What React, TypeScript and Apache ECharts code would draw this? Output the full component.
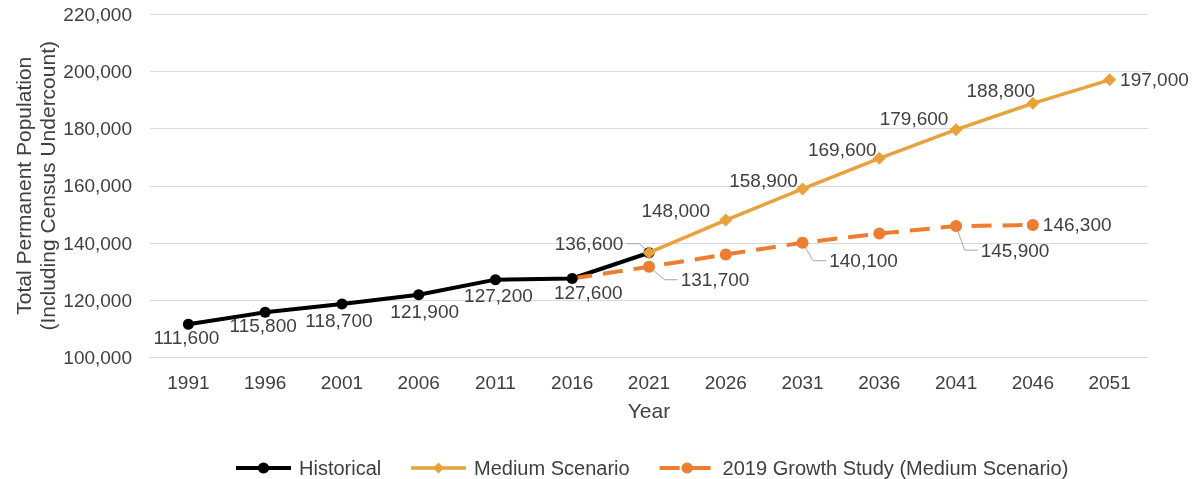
import React, { useEffect, useRef } from "react";
import * as echarts from "echarts";

const years = ["1991", "1996", "2001", "2006", "2011", "2016", "2021", "2026", "2031", "2036", "2041", "2046", "2051"];
const historical = [111600, 115800, 118700, 121900, 127200, 127600, 136600, null, null, null, null, null, null];
const medium = [null, null, null, null, null, null, 136600, 148000, 158900, 169600, 179600, 188800, 197000];
const growthStudy = [null, null, null, null, null, 127600, 131700, 136000, 140100, 143300, 145900, 146300, null];

const yMin = 100000;
const yMax = 220000;
const yInterval = 20000;

const seriesNames = ["Historical", "Medium Scenario", "2019 Growth Study (Medium Scenario)"];

// label placement (offset from the point, in px), null = no label, "right" = to the right
type Place = number[] | "right" | null;
const histPlace: Place[] = [[-2, 13], [-2, 13], [-3, 17], [6, 17], [3, 16], [16, 14], [-60, -9], null, null, null, null, null, null];
const medPlace: Place[] = [null, null, null, null, null, null, null, [-50, -10], [-39, -8], [-37, -9], [-42, -11], [-32, -13], "right"];
const growthPlace: Place[] = [null, null, null, null, null, null, [66, 13], null, [61, 18], null, [59, 24], "right", null];
// leader lines: which side of the label the leader attaches to
type Side = "left" | "right" | null;
const histLeader: Side[] = [null, null, null, null, null, null, "right", null, null, null, null, null, null];
const medLeader: Side[] = [null, null, null, null, null, null, null, null, null, null, null, null, null];
const growthLeader: Side[] = [null, null, null, null, null, null, "left", null, "left", null, "left", null, null];
const growthNoSymbol = [false, false, false, false, false, true, false, false, false, false, false, false, false];

const FONT = "'Liberation Sans', Arial, Helvetica, sans-serif";
const TEXT = "#404040";
const GRID = "#d9d9d9";
const LEADER = "#a6a6a6";
const C_HIST = "#000000";
const C_MED = "#E9A23B";
const C_GROWTH = "#ED7D31";
const LABEL_SIZE = 19;

const fmt = (v: number) => String(v).replace(/\B(?=(\d{3})+(?!\d))/g, ",");

function buildData(values: (number | null)[], places: Place[], noSymbol?: boolean[]) {
  return values.map((v, i) => {
    if (v == null) return "-";
    const p = places[i];
    const item: any = { value: v };
    if (p == null) {
      item.label = { show: false };
    } else if (p === "right") {
      item.label = { show: true, position: "right", distance: 4 };
    } else {
      item.label = { show: true, position: "inside", offset: p };
    }
    if (noSymbol && noSymbol[i]) item.symbol = "none";
    return item;
  });
}

const labelBase = {
  show: true,
  fontSize: LABEL_SIZE,
  fontFamily: FONT,
  color: TEXT,
  textBorderWidth: 0,
  textBorderColor: "transparent",
  formatter: (p: any) => fmt(Number(p.value)),
};

function measure(text: string) {
  const c = document.createElement("canvas").getContext("2d");
  if (!c) return text.length * 10;
  c.font = `${LABEL_SIZE}px ${FONT}`;
  return c.measureText(text).width;
}

export default function App() {
  const ref = useRef<HTMLDivElement>(null);
  useEffect(() => {
    if (!ref.current) return;
    const chart = echarts.init(ref.current, null, { renderer: "svg" });
    chart.setOption({
      animation: false,
      textStyle: { fontFamily: FONT },
      grid: { left: 150, right: 47, top: 14, bottom: 121.5, outerBoundsMode: "none", containLabel: false },
      legend: {
        data: seriesNames,
        left: 229,
        top: 453,
        itemWidth: 55,
        itemHeight: 14,
        itemGap: 28,
        lineStyle: { width: "inherit" },
        textStyle: { fontSize: 20, color: TEXT, fontFamily: FONT, padding: [0, 0, 0, 3] },
      },
      xAxis: {
        type: "category",
        data: years,
        boundaryGap: true,
        name: "Year",
        nameLocation: "middle",
        nameGap: 42,
        nameMoveOverlap: false,
        nameTextStyle: { fontSize: 21, color: TEXT, fontFamily: FONT, verticalAlign: "top" },
        axisLine: { show: true, lineStyle: { color: GRID, width: 1 } },
        axisTick: { show: false },
        axisLabel: { fontSize: 19, color: TEXT, fontFamily: FONT, margin: 15 },
        splitLine: { show: false },
      },
      yAxis: {
        type: "value",
        min: yMin,
        max: yMax,
        interval: yInterval,
        name: "Total Permanent Population\n(Including Census Undercount)",
        nameLocation: "middle",
        nameGap: 91,
        nameMoveOverlap: false,
        nameTextStyle: { fontSize: 21, color: TEXT, fontFamily: FONT, lineHeight: 24 },
        axisLine: { show: false },
        axisTick: { show: false },
        axisLabel: { fontSize: 19, color: TEXT, fontFamily: FONT, margin: 18, formatter: (v: number) => fmt(v) },
        splitLine: { show: true, lineStyle: { color: GRID, width: 1 } },
      },
      series: [
        {
          name: seriesNames[0],
          type: "line",
          data: buildData(historical, histPlace),
          symbol: "circle",
          symbolSize: 11,
          lineStyle: { color: C_HIST, width: 4 },
          itemStyle: { color: C_HIST },
          label: labelBase,
          z: 3,
        },
        {
          name: seriesNames[1],
          type: "line",
          data: buildData(medium, medPlace),
          symbol: "diamond",
          symbolSize: 13,
          lineStyle: { color: C_MED, width: 3.5 },
          itemStyle: { color: C_MED },
          label: labelBase,
          z: 4,
        },
        {
          name: seriesNames[2],
          type: "line",
          data: buildData(growthStudy, growthPlace, growthNoSymbol),
          symbol: "circle",
          symbolSize: 12,
          lineStyle: { color: C_GROWTH, width: 4, type: [20, 11] },
          itemStyle: { color: C_GROWTH },
          label: labelBase,
          z: 3,
        },
      ],
    });

    // leader lines, positioned through the chart's own scales
    const all = [
      { values: historical, places: histPlace, leaders: histLeader },
      { values: medium, places: medPlace, leaders: medLeader },
      { values: growthStudy, places: growthPlace, leaders: growthLeader },
    ];
    const graphics: any[] = [];
    all.forEach((s, si) => {
      s.leaders.forEach((side, i) => {
        const v = s.values[i];
        const off = s.places[i];
        if (!side || v == null || !Array.isArray(off)) return;
        const pt = chart.convertToPixel({ seriesIndex: si }, [i, v]) as number[];
        if (!pt) return;
        const w = measure(fmt(v));
        const cx = pt[0] + off[0];
        const cy = pt[1] + off[1];
        const sx = side === "right" ? cx + w / 2 + 3 : cx - w / 2 - 3;
        const ex = side === "right" ? sx + 13 : sx - 13;
        const dx = ex - pt[0];
        const dy = cy - pt[1];
        const d = Math.sqrt(dx * dx + dy * dy) || 1;
        const r = 4;
        graphics.push({
          type: "polyline",
          z: 1,
          silent: true,
          shape: { points: [[sx, cy], [ex, cy], [pt[0] + (dx / d) * r, pt[1] + (dy / d) * r]] },
          style: { stroke: LEADER, lineWidth: 1, fill: "none" },
        });
      });
    });
    chart.setOption({ graphic: graphics });
    return () => chart.dispose();
  }, []);
  return <div ref={ref} style={{ position: "fixed", left: 0, top: 0, width: 1195, height: 479 }} />;
}
